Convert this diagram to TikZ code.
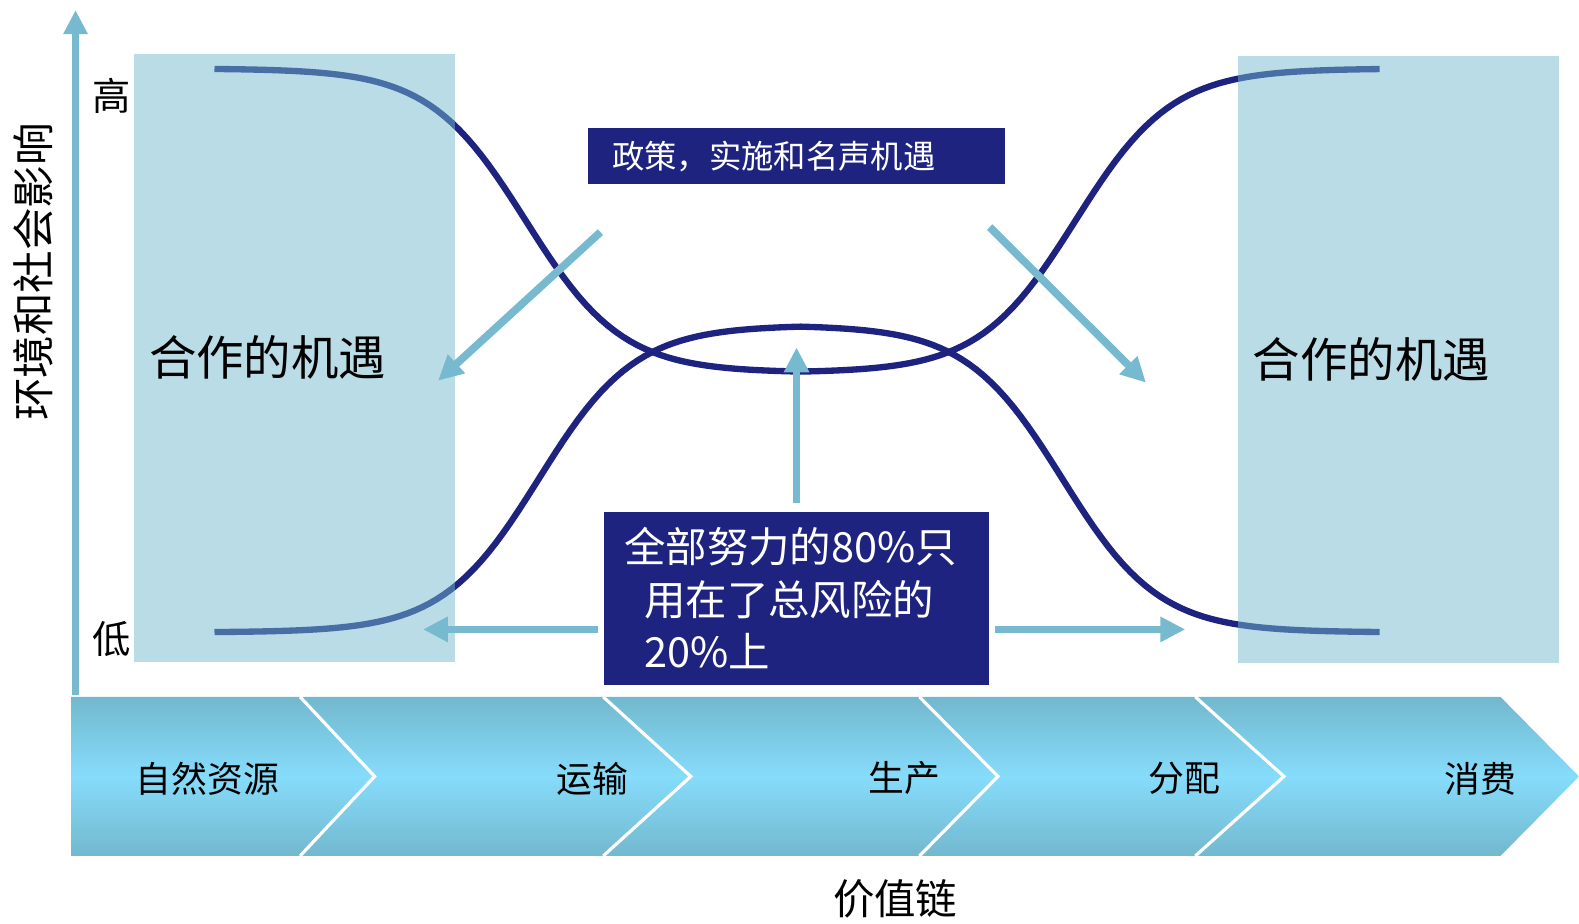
\documentclass[tikz,border=0pt]{standalone}
\usepackage{fontspec}
\setmainfont{Noto Sans CJK SC}
\usetikzlibrary{positioning,arrows.meta}
\definecolor{navy}{HTML}{1E2380}
\definecolor{sky}{HTML}{77BAD0}
\definecolor{zonefill}{HTML}{73B9CD}
\definecolor{chevdark}{HTML}{72B8CE}
\definecolor{chevlight}{HTML}{86DCFB}

\begin{document}
\begin{tikzpicture}[x=0.01007cm,y=-0.01007cm,
  curve/.style={navy,line width=1.8pt},
  zone/.style={fill=zonefill,fill opacity=0.5,text opacity=1,inner xsep=0.15cm,text width=2.91cm,align=left,font=\fontsize{13.5pt}{16pt}\selectfont},
  dark/.style={fill=navy,text=white,inner sep=0pt},
  arr/.style={sky,line width=2.2pt,-{Triangle[length=0.25cm,width=0.24cm]}},
  stage/.style={font=\fontsize{10.2pt}{12pt}\selectfont},
  lbl/.style={font=\fontsize{11.8pt}{14pt}\selectfont}]
\useasboundingbox (0,0) rectangle (1568,917);
% value chain
\shade[top color=chevdark,bottom color=chevdark,middle color=chevlight]
  (71,692) -- (1490,692) -- (1568,771) -- (1490,850) -- (71,850) -- cycle;
\foreach \a/\b in {298/372,599/686,913/991,1187/1275}
  \draw[white,line width=0.9pt] (\a,692) -- (\b,771) -- (\a,850);
\node[stage] (s1) at (206,773) {自然资源};
\node[stage] (s2) at (588,773) {运输};
\node[stage] (s3) at (898,773) {生产};
\node[stage] (s4) at (1176,773) {分配};
\node[stage] (s5) at (1470,773) {消费};
\node[lbl] (xlab) at (889,893) {价值链};
% axis
\draw[sky,line width=2pt,-{Triangle[length=0.24cm,width=0.23cm]}] (75,690) -- (75,10);
\node[font=\fontsize{12.1pt}{14pt}\selectfont,rotate=90] (ylab) at (33,270) {环境和社会影响};
\node[font=\fontsize{10.9pt}{13pt}\selectfont] (hi) at (111,95) {高};
\node[font=\fontsize{10.9pt}{13pt}\selectfont] (lo) at (111,635) {低};
% curves
\draw[curve] plot[domain=213:795,samples=80] (\x,{68+302/(1+exp(-(\x-522)/48))})
  -- plot[domain=795:1370,samples=80] (\x,{68+302/(1+exp((\x-1068)/48))});
\draw[curve] plot[domain=213:795,samples=80] (\x,{628-305/(1+exp(-(\x-535)/48))})
  -- plot[domain=795:1370,samples=80] (\x,{628-305/(1+exp((\x-1055)/48))});
% opportunity zones
\node[zone,minimum height=6.08cm] (lz) at (292.5,355) {合作的机遇};
\node[zone,minimum height=6.07cm] (rz) at (1388.5,356.5) {合作的机遇};
% boxes
\node[dark,minimum width=4.17cm,minimum height=0.56cm,inner xsep=0.24cm,text width=3.69cm,align=left,
  font=\fontsize{9.2pt}{11pt}\selectfont] (pol) at (791,155) {政策，实施和名声机遇};
\node[dark,minimum width=3.85cm,minimum height=1.73cm,inner xsep=0.2cm,text width=3.45cm,align=left,
  font=\fontsize{11.8pt}{14.9pt}\selectfont] (risk) at (791,594)
  {全部努力的80\%只\\\hspace*{0.2cm}用在了总风险的\\\hspace*{0.2cm}20\%上};
% arrows
\coordinate (lt) at (420,625);
\coordinate (rt) at (1177,625);
\coordinate (upt) at (791,345);
\coordinate (dl) at (435,378);
\coordinate (dr) at (1138,380);
\draw[arr,shorten <=0.05cm] (risk.west |- lt) -- (lt);
\draw[arr,shorten <=0.05cm] (risk.east |- rt) -- (rt);
\draw[arr,shorten <=0.08cm] (risk.north) -- (upt);
\draw[arr] ([shift={(13,47)}]pol.south west) -- (dl);
\draw[arr] ([shift={(-16,42)}]pol.south east) -- (dr);
\end{tikzpicture}
\end{document}
